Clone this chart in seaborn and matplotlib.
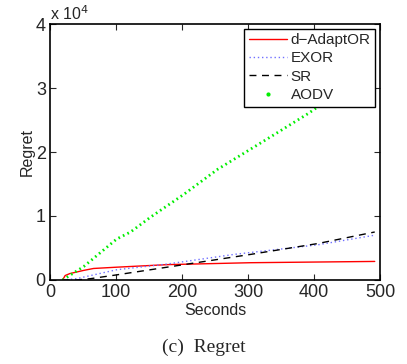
import numpy as np
import pandas as pd
import seaborn as sns
import matplotlib
import matplotlib.pyplot as plt
from matplotlib.lines import Line2D
from matplotlib.ticker import FuncFormatter, MultipleLocator

matplotlib.use('Agg')

# -------------------------------Datos
t_adaptor = [19, 23, 30, 51, 66, 101, 178, 304, 492]
regret_adaptor = [0, 700, 1000, 1500, 1800, 2000, 2400, 2700, 2900]

t_exor = [19, 40, 101, 178, 279, 406, 492]
regret_exor = [0, 200, 1600, 2500, 4000, 5500, 7000]

t_sr = [19, 40, 61, 101, 152, 228, 304, 406, 492]
regret_sr = [0, 0, 200, 800, 1600, 2800, 4000, 5700, 7500]

t_aodv = [19, 51, 101, 122, 152, 203, 254, 330, 391, 440, 490]
regret_aodv = [0, 2100, 6400, 7500, 9800, 13400, 17300, 22100, 26000, 29500, 33000]

sns.set_style("ticks")
plt.rcParams['font.family'] = ['Liberation Sans', 'DejaVu Sans']

fig = plt.figure(figsize=(4.07, 3.64), dpi=100)
ax = fig.add_axes([0.1229, 0.2308, 0.8108, 0.7032])

sns.lineplot(x=t_adaptor, y=regret_adaptor, ax=ax, color='red', linewidth=1.0,
             label='d\u2212AdaptOR')
sns.lineplot(x=t_exor, y=regret_exor, ax=ax, color='#7070ff', linewidth=1.0,
             linestyle=(0, (1, 2)), label='EXOR')
sns.lineplot(x=t_sr, y=regret_sr, ax=ax, color='black', linewidth=1.0,
             linestyle=(0, (5, 4)), label='SR')
sns.lineplot(x=t_aodv, y=regret_aodv, ax=ax, color='#00ee00', linewidth=2.0,
             linestyle=(0, (0.6, 1.2)), label='AODV')

ax.set_xlim(0, 500)
ax.set_ylim(0, 40000)
ax.xaxis.set_major_locator(MultipleLocator(100))
ax.yaxis.set_major_locator(MultipleLocator(10000))
ax.yaxis.set_major_formatter(FuncFormatter(lambda v, p: f"{v / 1e4:g}"))
ax.tick_params(direction='in', top=True, right=True, length=4, width=0.8,
               labelsize=13, pad=3)
for s in ax.spines.values():
    s.set_linewidth(1.2)
    s.set_color('black')

ax.set_xlabel('Seconds', fontsize=11.5, labelpad=1)
ax.set_ylabel('Regret', fontsize=11.5, labelpad=1)
ax.text(0.0, 1.005, 'x 10$^4$', transform=ax.transAxes, fontsize=11.5,
        ha='left', va='bottom')

handles = [
    Line2D([], [], color='red', linewidth=1.0),
    Line2D([], [], color='#7070ff', linewidth=1.0, linestyle=(0, (1, 2))),
    Line2D([], [], color='black', linewidth=1.0, linestyle=(0, (5, 4))),
    Line2D([], [], color='#00ee00', marker='.', markersize=4, linestyle='none'),
]
leg = ax.legend(handles, ['d\u2212AdaptOR', 'EXOR', 'SR', 'AODV'],
                loc='upper right', fontsize=11, frameon=True, fancybox=False,
                handlelength=2.5, handletextpad=0.25, labelspacing=0.28,
                borderpad=0.3, borderaxespad=0.3)
leg.get_frame().set_edgecolor('black')
leg.get_frame().set_linewidth(1.0)
leg.get_frame().set_alpha(1.0)

fig.text(0.5, 0.047, '(c)  Regret', ha='center', va='center', fontsize=14,
         family=['Liberation Serif', 'DejaVu Serif'])

plt.savefig('out.png', dpi=100)
